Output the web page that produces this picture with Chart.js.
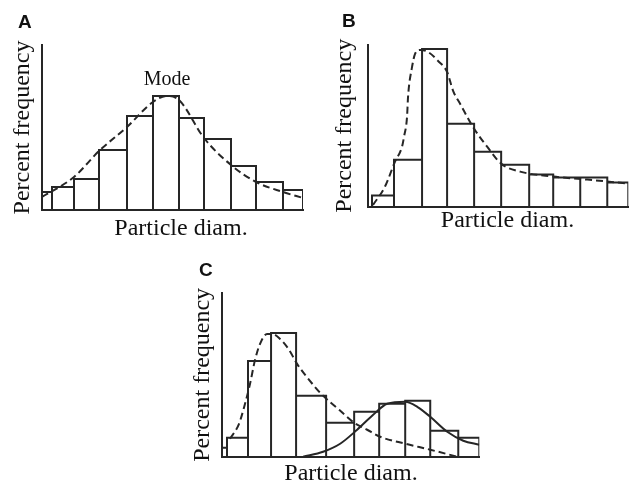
<!DOCTYPE html>
<html>
<head>
<meta charset="utf-8">
<script src="https://cdn.jsdelivr.net/npm/chart.js@4.4.0/dist/chart.umd.min.js"></script>
<style>
  html, body { margin: 0; padding: 0; background: #fff; width: 629px; height: 484px; overflow: hidden; }
  canvas { position: absolute; }
</style>
</head>
<body>
<canvas id="chartA" width="312" height="245" style="left:0;top:0"></canvas>
<canvas id="chartB" width="309" height="245" style="left:320px;top:0"></canvas>
<canvas id="chartC" width="305" height="244" style="left:180px;top:240px"></canvas>
<script>
// A - symmetric distribution
const binEdgesA = [0, 1.0, 3.2, 5.7, 8.5, 11.1, 13.7, 16.2, 18.9, 21.4, 24.1, 26.1];
const freqA = [1.8, 2.3, 3.1, 6.0, 9.4, 11.4, 9.2, 7.1, 4.4, 2.8, 2.0];
const fitXA = [0.0, 3.2, 5.7, 8.5, 11.1, 12.5, 13.7, 16.2, 18.9, 21.4, 24.1, 26.1];
const fitYA = [1.3, 3.3, 5.9, 8.3, 10.8, 11.4, 11.0, 7.2, 4.5, 2.8, 1.8, 1.2];

// B - skewed distribution
const binEdgesB = [0.4, 2.6, 5.4, 7.9, 10.6, 13.3, 16.1, 18.5, 21.2, 23.9, 26.0];
const freqB = [1.1, 4.7, 15.8, 8.3, 5.5, 4.2, 3.2, 2.9, 2.9, 2.4];
const fitXB = [0.5, 1.7, 2.7, 3.4, 3.6, 3.9, 4.0, 4.4, 4.7, 5.2, 6.0, 7.0, 7.9, 8.5, 9.2, 10.6, 11.9, 13.3, 15.2, 18.5, 21.9, 26.0];
const fitYB = [0.15, 2.0, 4.5, 6.0, 7.0, 9.0, 11.0, 14.0, 15.3, 15.7, 15.5, 14.6, 13.5, 11.6, 10.3, 7.8, 6.0, 4.3, 3.5, 3.0, 2.7, 2.3];

// C - bimodal distribution
const binEdgesC = [0, 0.5, 2.6, 4.9, 7.4, 10.4, 13.2, 15.7, 18.3, 20.8, 23.6, 25.7];
const freqC = [0.9, 1.9, 9.6, 12.4, 6.1, 3.4, 4.5, 5.3, 5.6, 2.6, 1.9];
const fitXC1 = [0.8, 1.7, 2.3, 2.8, 3.3, 3.8, 4.5, 5.0, 5.8, 6.7, 7.5, 8.7, 10.0, 11.7, 13.2, 14.5, 15.8, 18.3, 20.8, 23.5];
const fitYC1 = [1.8, 3.3, 5.3, 7.3, 9.7, 11.3, 12.3, 12.3, 11.8, 10.7, 9.3, 7.7, 6.2, 4.7, 3.4, 2.7, 2.0, 1.3, 0.7, 0];
const fitXC2 = [8.1, 10.1, 11.8, 13.5, 15.1, 16.5, 18.3, 19.5, 20.8, 22.5, 24.1, 25.7];
const fitYC2 = [0, 0.5, 1.3, 2.7, 4.2, 5.3, 5.5, 5.0, 4.0, 2.5, 1.6, 1.2];

const ink = '#262626';
const serif = '"Liberation Serif", "Times New Roman", serif';

// outline of the histogram bars, one closed step per bin
function histogramPoints(edges, freq) {
    let pts = [];
    for (let i = 0; i < freq.length; i++) {
        pts.push({x: edges[i], y: 0});
        pts.push({x: edges[i], y: freq[i]});
        pts.push({x: edges[i + 1], y: freq[i]});
        pts.push({x: edges[i + 1], y: 0});
    }
    return pts;
}

function curvePoints(xs, ys) {
    return xs.map((x, i) => ({x: x, y: ys[i]}));
}

// panel letter, x axis title and the "Mode" note
const panelText = {
    id: 'panelText',
    afterDraw(chart, args, opts) {
        const ctx = chart.ctx;
        ctx.save();
        ctx.fillStyle = '#111';
        ctx.textBaseline = 'alphabetic';
        ctx.font = 'bold 19px "Liberation Sans", Arial, sans-serif';
        ctx.fillText(opts.letter, opts.lx, opts.ly);
        ctx.textAlign = 'center';
        ctx.font = '24px ' + serif;
        ctx.fillText('Particle diam.', opts.tx, opts.ty);
        if (opts.note) {
            ctx.font = '20px ' + serif;
            ctx.fillText(opts.note, chart.scales.x.getPixelForValue(opts.noteX), chart.scales.y.getPixelForValue(opts.noteY));
        }
        ctx.restore();
    }
};

function makeChart(id, p) {
    let datasets = [{
        data: histogramPoints(p.edges, p.freq),
        borderColor: ink,
        borderWidth: 2,
        showLine: true,
        pointRadius: 0,
        tension: 0
    }];
    p.curves.forEach(c => {
        datasets.push({
            data: curvePoints(c.xs, c.ys),
            borderColor: ink,
            borderWidth: 2,
            borderDash: c.dashed ? [7, 4] : [],
            showLine: true,
            pointRadius: 0,
            cubicInterpolationMode: 'monotone'
        });
    });
    new Chart(document.getElementById(id).getContext('2d'), {
        type: 'scatter',
        data: {datasets: datasets},
        options: {
            responsive: false,
            animation: false,
            layout: {padding: {top: p.padTop, right: p.padRight, bottom: 0, left: 0}},
            plugins: {
                legend: {display: false},
                tooltip: {enabled: false},
                panelText: p.text
            },
            scales: {
                x: {
                    type: 'linear',
                    min: 0,
                    max: p.xMax,
                    ticks: {display: false},
                    grid: {display: false},
                    border: {display: true, color: ink, width: 2},
                    afterFit: s => { s.height = p.xHeight; }
                },
                y: {
                    min: 0,
                    max: p.yMax,
                    ticks: {display: false},
                    grid: {display: false},
                    border: {display: true, color: ink, width: 2},
                    title: {
                        display: true,
                        text: 'Percent frequency',
                        color: '#111',
                        font: {family: serif, size: 24, lineHeight: 1},
                        padding: {top: p.yTitlePad, bottom: 0}
                    },
                    afterFit: s => { s.width = p.yWidth; }
                }
            }
        },
        plugins: [panelText]
    });
}

makeChart('chartA', {
    edges: binEdgesA, freq: freqA,
    curves: [{xs: fitXA, ys: fitYA, dashed: true}],
    xMax: 26.1, yMax: 16.5,
    padTop: 45, padRight: 9, xHeight: 35, yWidth: 42, yTitlePad: 11,
    text: {letter: 'A', lx: 18, ly: 27.5, tx: 181, ty: 235, note: 'Mode', noteX: 12.5, noteY: 12.5}
});

makeChart('chartB', {
    edges: binEdgesB, freq: freqB,
    curves: [{xs: fitXB, ys: fitYB, dashed: true}],
    xMax: 26.0, yMax: 16.2,
    padTop: 45, padRight: 0.7, xHeight: 38.5, yWidth: 48, yTitlePad: 13,
    text: {letter: 'B', lx: 22, ly: 27, tx: 187.5, ty: 227}
});

makeChart('chartC', {
    edges: binEdgesC, freq: freqC,
    curves: [{xs: fitXC1, ys: fitYC1, dashed: true}, {xs: fitXC2, ys: fitYC2, dashed: false}],
    xMax: 25.7, yMax: 16.4,
    padTop: 53, padRight: 5.7, xHeight: 27.3, yWidth: 42, yTitlePad: 11,
    text: {letter: 'C', lx: 19, ly: 35.7, tx: 171, ty: 240}
});
</script>
</body>
</html>
